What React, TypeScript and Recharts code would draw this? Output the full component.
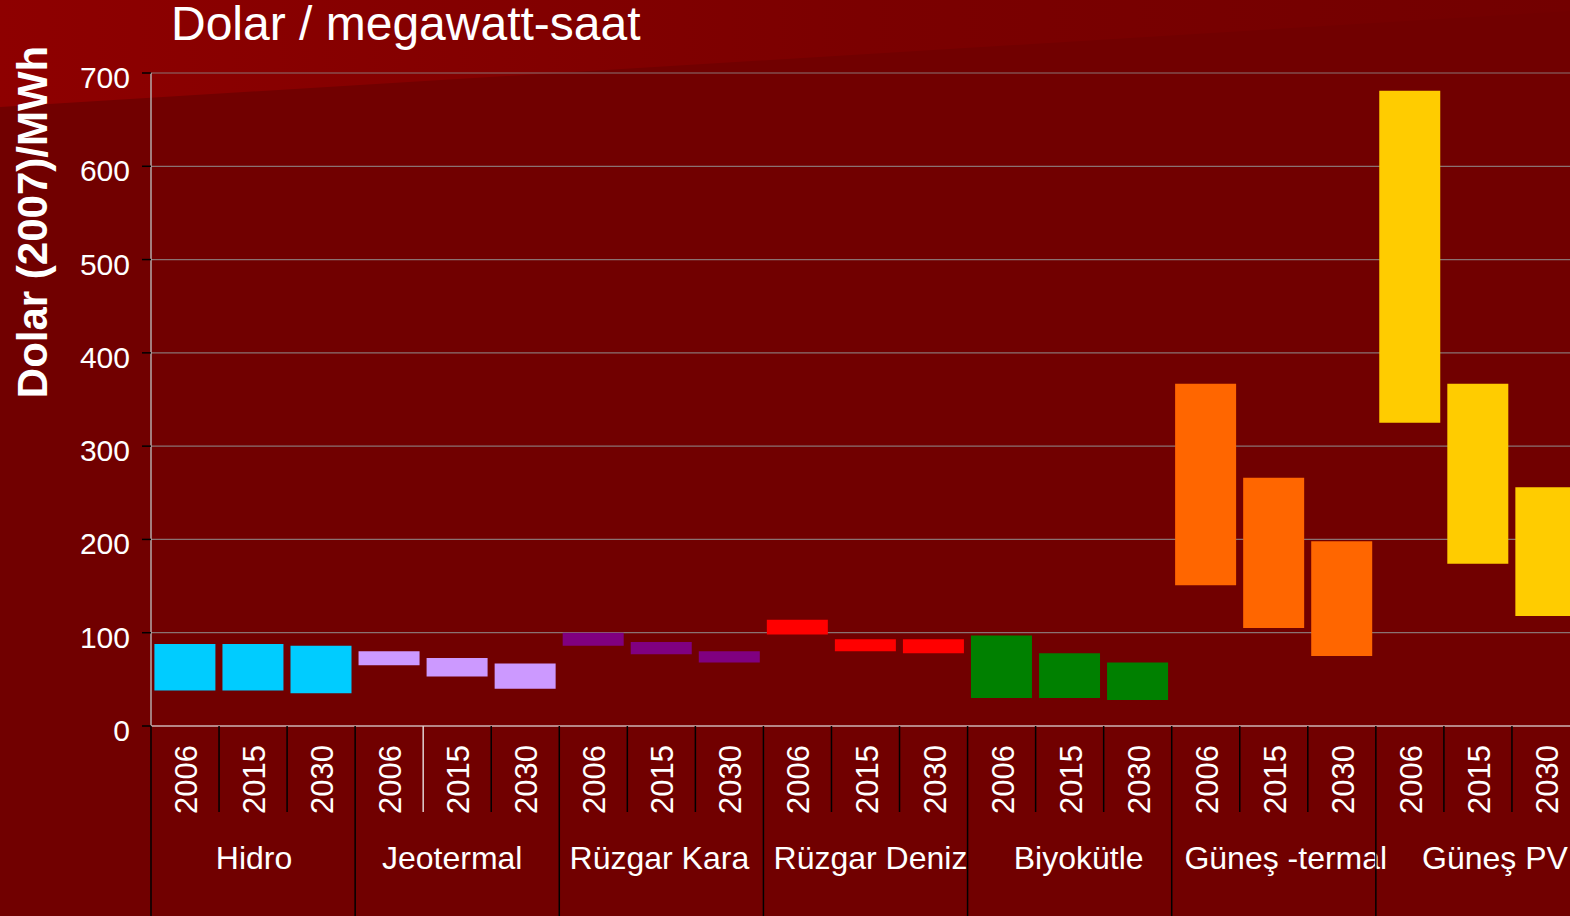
import React from 'react';
import { BarChart, Bar, XAxis, YAxis, CartesianGrid, Cell } from 'recharts';

const groups = ["Hidro", "Jeotermal", "Rüzgar Kara", "Rüzgar Deniz", "Biyokütle", "Güneş -termal", "Güneş PV"];
const years = ["2006", "2015", "2030"];
const groupColors = ["#00CCFF", "#CC99FF", "#800080", "#FF0000", "#008000", "#FF6600", "#FFCC00"];
const lowValues = [38, 38, 35, 65, 53, 40, 86, 77, 68, 98, 80, 78, 30, 30, 28, 151, 105, 75, 325, 174, 118];
const highValues = [88, 88, 86, 80, 73, 67, 100, 90, 80, 114, 93, 93, 97, 78, 68, 367, 266, 198, 681, 367, 256];
const yTicks = [0, 100, 200, 300, 400, 500, 600, 700];
const titleText = "Dolar / megawatt-saat";
const yLabelText = "Dolar (2007)/MWh";

// layout-only: horizontal nudges of the group labels (px)
const groupLabelNudge = [1, -5, -2, 5, 9, 12, 17];

const data = groups.flatMap((g, gi) =>
  years.map((y, yi) => {
    const i = gi * 3 + yi;
    return { key: `${g}-${y}`, year: y, group: g, range: [lowValues[i], highValues[i]], color: groupColors[gi] };
  })
);

const FONT = "'Liberation Sans', Arial, Helvetica, sans-serif";
const W = 1570;
const H = 916;
const CHART_W = 1580;
const Y_AXIS_W = 151;
const X_AXIS_H = 190;
const TOP = 73;
const SLOT = (CHART_W - Y_AXIS_W) / data.length;

function XTick(props: any) {
  const { x, y, payload } = props;
  const i = data.findIndex((d) => d.key === payload.value);
  if (i < 0) return null;
  const d = data[i];
  const left = x - SLOT / 2;
  const isGroupStart = i % 3 === 0;
  const gi = Math.floor(i / 3);
  return (
    <g>
      <line
        x1={left}
        x2={left}
        y1={y}
        y2={isGroupStart ? y + 200 : y + 86}
        stroke={i === 4 ? "#e0d0d0" : "#000"}
        strokeWidth={1.5}
      />
      <text
        transform={`translate(${x + 12},${y + 88}) rotate(-90)`}
        fill="#fff"
        fontSize={31}
        fontFamily={FONT}
      >
        {d.year}
      </text>
      {i % 3 === 1 && (
        <text
          x={x + groupLabelNudge[gi]}
          y={y + 143}
          textAnchor="middle"
          fill="#fff"
          fontSize={32}
          fontFamily={FONT}
        >
          {d.group}
        </text>
      )}
    </g>
  );
}

function YTick(props: any) {
  const { x, y, payload } = props;
  return (
    <text x={x} y={y} dy={15} textAnchor="end" fill="#fff" fontSize={30} fontFamily={FONT}>
      {payload.value}
    </text>
  );
}

export default function App() {
  return (
    <div
      style={{
        position: 'fixed',
        left: 0,
        top: 0,
        width: W,
        height: H,
        overflow: 'hidden',
        background: '#710000',
      }}
    >
      <svg width={W} height={H} style={{ position: 'absolute', left: 0, top: 0 }}>
        <defs>
          <linearGradient id="topband" x1="0" y1="0" x2="1" y2="0">
            <stop offset="0%" stopColor="#8e0000" />
            <stop offset="55%" stopColor="#7b0000" />
            <stop offset="100%" stopColor="#730000" />
          </linearGradient>
        </defs>
        <polygon points={`0,0 ${W},0 ${W},11 0,107`} fill="url(#topband)" />
        <text x={171} y={40} fill="#fff" fontSize={48} fontFamily={FONT}>
          {titleText}
        </text>
        <text
          transform="translate(47,222) rotate(-90)"
          textAnchor="middle"
          fill="#fff"
          fontSize={42}
          fontWeight="bold"
          fontFamily={FONT}
        >
          {yLabelText}
        </text>
      </svg>
      <div style={{ position: 'absolute', left: 0, top: 0 }}>
        <BarChart
          width={CHART_W}
          height={H}
          data={data}
          margin={{ top: TOP, right: 0, bottom: 0, left: 0 }}
          barCategoryGap="5%"
        >
          <CartesianGrid vertical={false} stroke="#8a7272" strokeWidth={1.2} />
          <YAxis
            type="number"
            domain={[0, 700]}
            ticks={yTicks}
            width={Y_AXIS_W}
            tickSize={9}
            tickMargin={12}
            tickLine={{ stroke: '#000', strokeWidth: 1.5 }}
            axisLine={{ stroke: '#b4a8a8', strokeWidth: 1.5 }}
            tick={<YTick />}
            interval={0}
          />
          <XAxis
            dataKey="key"
            type="category"
            height={X_AXIS_H}
            tickSize={0}
            tickMargin={0}
            tickLine={false}
            axisLine={{ stroke: '#c8a0a0', strokeWidth: 1.5 }}
            tick={<XTick />}
            interval={0}
          />
          <Bar dataKey="range" isAnimationActive={false}>
            {data.map((d) => (
              <Cell key={d.key} fill={d.color} />
            ))}
          </Bar>
        </BarChart>
      </div>
    </div>
  );
}
